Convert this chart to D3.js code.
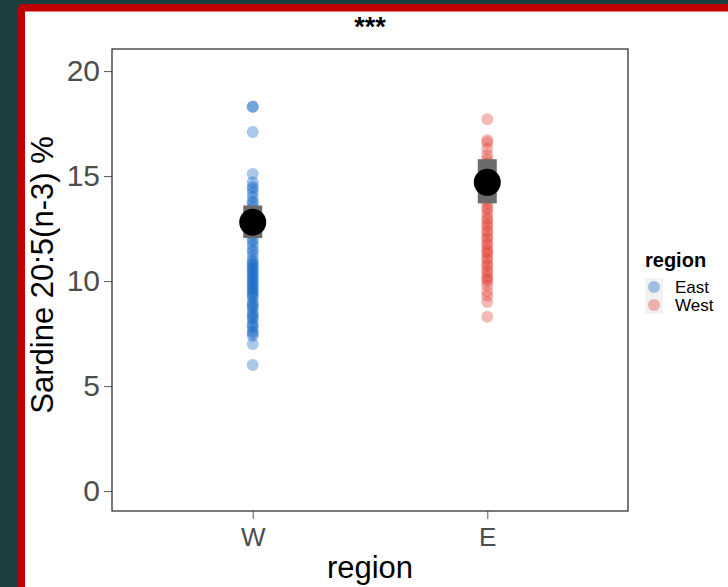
<!DOCTYPE html>
<html><head><meta charset="utf-8">
<script src="https://cdn.jsdelivr.net/npm/d3@7"></script>
<style>html,body{margin:0;padding:0;background:#1b3f41;overflow:hidden}</style>
</head><body>
<svg id="c" width="728" height="587"></svg>
<script>
const categories = ["W", "E"];
const groupColors = ["#0b62c4", "#e2382b"];
const legendLabels = ["East", "West"];
const valuesW = [18.3, 18.3, 17.1, 15.1, 14.7, 14.5, 14.4, 14.2, 14.0, 13.8, 13.7, 13.5, 13.3, 13.1, 13.0, 12.8, 12.6, 12.4, 12.2, 12.0, 11.9, 11.7, 11.5, 11.4, 11.2, 11.0, 10.9, 10.8, 10.7, 10.6, 10.5, 10.4, 10.3, 10.2, 10.1, 10.0, 9.9, 9.8, 9.7, 9.6, 9.5, 9.4, 9.3, 9.2, 9.0, 8.9, 8.8, 8.7, 8.5, 8.4, 8.3, 8.2, 8.0, 7.9, 7.8, 7.6, 7.5, 7.4, 7.0, 6.0];
const valuesE = [17.7, 16.7, 16.6, 16.3, 16.0, 15.8, 15.6, 15.4, 15.2, 15.0, 14.9, 14.7, 14.5, 14.3, 14.1, 13.9, 13.7, 13.5, 13.4, 13.2, 13.0, 12.9, 12.7, 12.6, 12.4, 12.3, 12.1, 12.0, 11.8, 11.7, 11.5, 11.4, 11.3, 11.1, 11.0, 10.8, 10.7, 10.5, 10.4, 10.2, 10.1, 10.0, 9.8, 9.5, 9.3, 9.0, 8.3];
const means = [12.8, 14.7];
const lowers = [12.05, 13.7];
const uppers = [13.6, 15.8];
const yTicks = [0, 5, 10, 15, 20];

const FONT = "Liberation Sans, Arial, sans-serif";
const svg = d3.select("#c");
// frame
svg.append("rect").attr("x",17).attr("y",4).attr("width",760).attr("height",620).attr("rx",6).attr("fill","#c00000");
svg.append("rect").attr("x",25).attr("y",11.5).attr("width",760).attr("height",620).attr("fill","#ffffff");

const P = {l:112, r:628, t:49, b:511};
const y = d3.scaleLinear().domain([-0.95, 21.05]).range([P.b, P.t]);
const x = d3.scalePoint().domain(categories).range([P.l, P.r]).padding(0.6);

// title
svg.append("text").attr("x",(P.l+P.r)/2).attr("y",36).attr("text-anchor","middle")
  .attr("font-family",FONT).attr("font-weight","bold").attr("font-size",27).attr("fill","#000").text("***");

// axes
const yAx = svg.append("g").attr("transform",`translate(${P.l},0)`)
  .call(d3.axisLeft(y).tickValues(yTicks).tickSize(8).tickPadding(4));
const xAx = svg.append("g").attr("transform",`translate(0,${P.b})`)
  .call(d3.axisBottom(x).tickSize(8).tickPadding(9));
[yAx,xAx].forEach(g=>{
  g.select(".domain").remove();
  g.selectAll(".tick line").attr("stroke","#666").attr("stroke-width",1.1);
  g.selectAll(".tick text").attr("fill","#4d4d4d").attr("font-family",FONT);
});
yAx.selectAll(".tick text").attr("font-size",30);
xAx.selectAll(".tick text").attr("font-size",26);

// points
const groups = [valuesW, valuesE];
groups.forEach((vals,i)=>{
  svg.append("g").selectAll("circle").data(vals).join("circle")
    .attr("cx",x(categories[i])).attr("cy",d=>y(d)).attr("r",6)
    .attr("fill",groupColors[i]).attr("fill-opacity",0.35);
});
// error bars and means
categories.forEach((c,i)=>{
  svg.append("rect").attr("x",x(c)-9.5).attr("y",y(uppers[i])).attr("width",19)
    .attr("height",y(lowers[i])-y(uppers[i])).attr("fill","#6b6b6b");
  svg.append("circle").attr("cx",x(c)).attr("cy",y(means[i])).attr("r",13.5).attr("fill","#000");
});

// panel border
svg.append("rect").attr("x",P.l).attr("y",P.t).attr("width",P.r-P.l).attr("height",P.b-P.t)
  .attr("fill","none").attr("stroke","#222").attr("stroke-width",1.2);

// axis titles
svg.append("text").attr("x",(P.l+P.r)/2).attr("y",578).attr("text-anchor","middle")
  .attr("font-family",FONT).attr("font-size",31).attr("fill","#000").text("region");
svg.append("text").attr("transform",`translate(53,${(P.t+P.b)/2-5}) rotate(-90)`).attr("text-anchor","middle")
  .attr("font-family",FONT).attr("font-size",31).attr("fill","#000").text("Sardine 20:5(n-3) %");

// legend
const lg = svg.append("g");
lg.append("text").attr("x",645).attr("y",267).attr("font-family",FONT)
  .attr("font-weight","bold").attr("font-size",20).attr("fill","#000").text("region");
legendLabels.forEach((lab,i)=>{
  const cy = 287 + i*18;
  lg.append("rect").attr("x",645).attr("y",cy-9).attr("width",18).attr("height",18).attr("fill","#f2f2f2");
  lg.append("circle").attr("cx",654).attr("cy",cy).attr("r",6).attr("fill",groupColors[i]).attr("fill-opacity",0.35);
  lg.append("text").attr("x",675).attr("y",cy+6).attr("font-family",FONT)
    .attr("font-size",17).attr("fill","#000").text(lab);
});
</script>
</body></html>
